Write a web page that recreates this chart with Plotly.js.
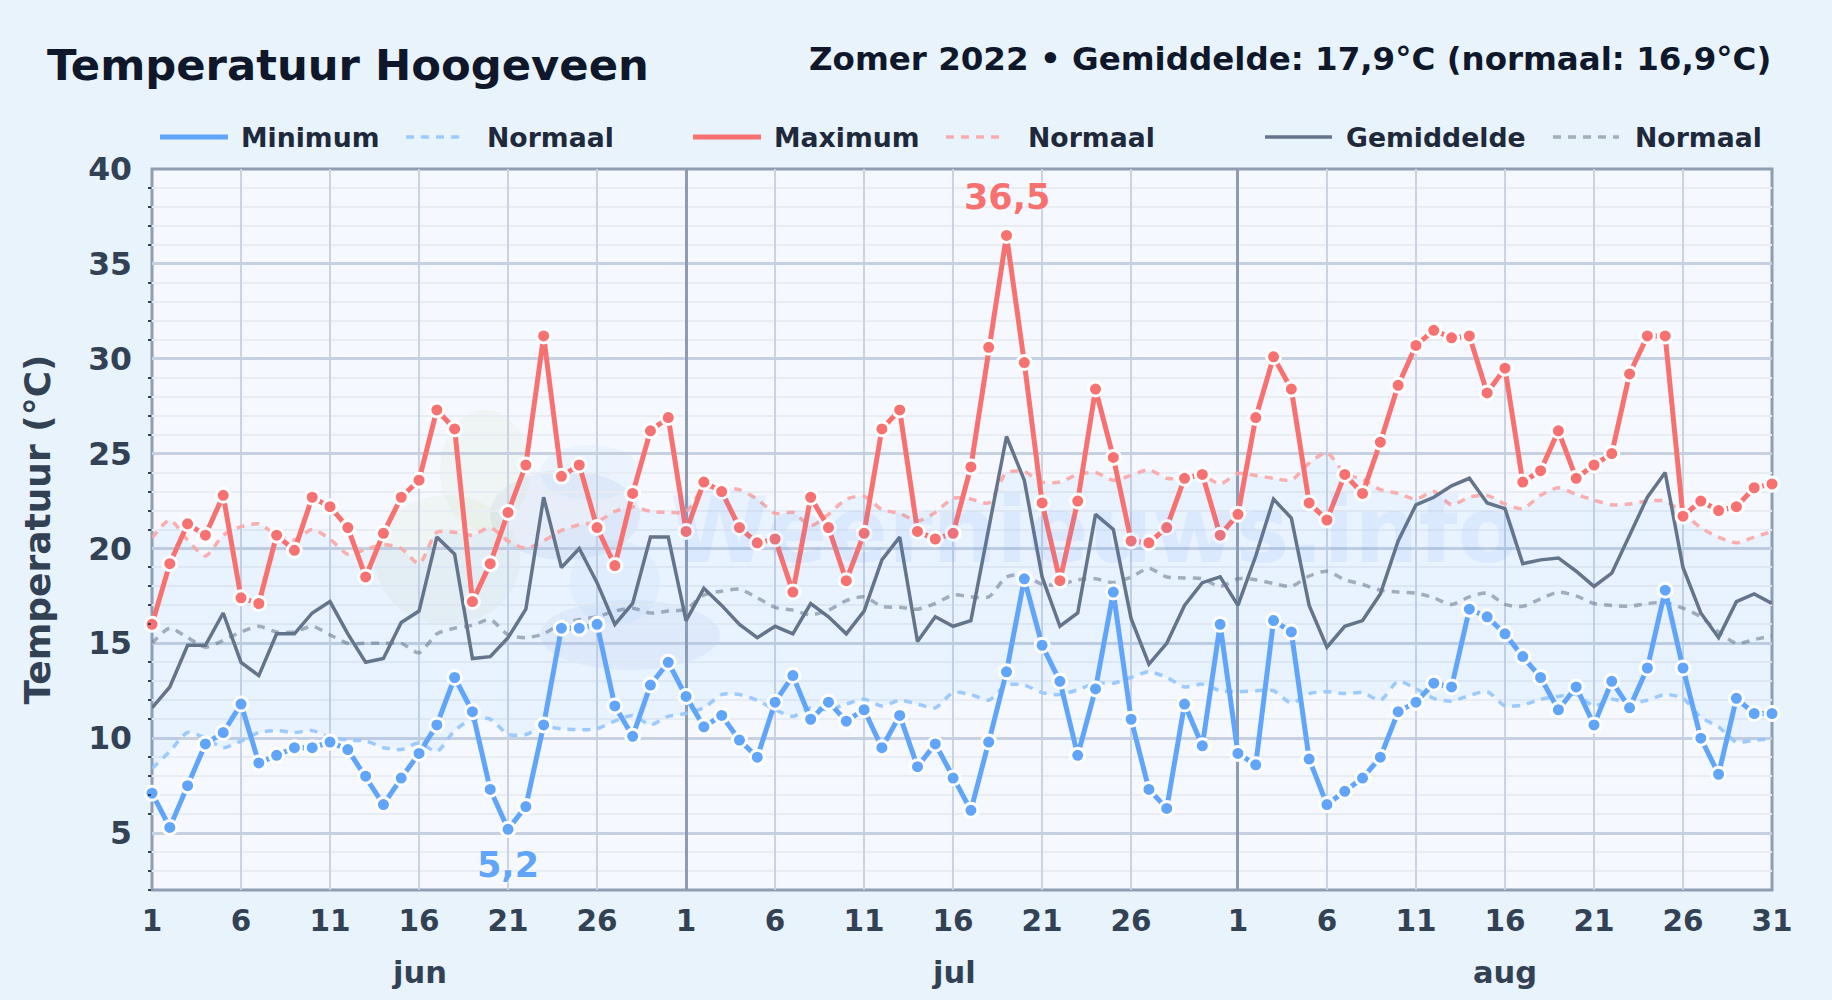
<!DOCTYPE html>
<html><head><meta charset="utf-8">
<script src="https://cdn.plot.ly/plotly-3.0.1.min.js"></script>
<style>html,body{margin:0;padding:0;background:#e8f3fc;overflow:hidden}#c{width:1832px;height:1000px}</style>
</head><body><div id="c"></div>
<script>
const minVals = [7.1,5.3,7.5,9.7,10.3,11.8,8.7,9.1,9.5,9.5,9.8,9.4,8.0,6.5,7.9,9.2,10.7,13.2,11.4,7.3,5.2,6.4,10.7,15.8,15.8,16.0,11.7,10.1,12.8,14.0,
12.2,10.6,11.2,9.9,9.0,11.9,13.3,11.0,11.9,10.9,11.5,9.5,11.2,8.5,9.7,7.9,6.2,9.8,13.5,18.4,14.9,13.0,9.1,12.6,17.7,11.0,7.3,6.3,11.8,9.6,16.0,
9.2,8.6,16.2,15.6,8.9,6.5,7.2,7.9,9.0,11.4,11.9,12.9,12.7,16.8,16.4,15.5,14.3,13.2,11.5,12.7,10.7,13.0,11.6,13.7,17.8,13.7,10.0,8.1,12.1,11.3,11.3];
const maxVals = [16.0,19.2,21.3,20.7,22.8,17.4,17.1,20.7,19.9,22.7,22.2,21.1,18.5,20.8,22.7,23.6,27.3,26.3,17.2,19.2,21.9,24.4,31.2,23.8,24.4,21.1,19.1,22.9,26.2,26.9,
20.9,23.5,23.0,21.1,20.3,20.5,17.7,22.7,21.1,18.3,20.8,26.3,27.3,20.9,20.5,20.8,24.3,30.6,36.5,29.8,22.4,18.3,22.5,28.4,24.8,20.4,20.3,21.1,23.7,23.9,20.7,
21.8,26.9,30.1,28.4,22.4,21.5,23.9,22.9,25.6,28.6,30.7,31.5,31.1,31.2,28.2,29.5,23.5,24.1,26.2,23.7,24.4,25.0,29.2,31.2,31.2,21.7,22.5,22.0,22.2,23.2,23.4];
const meanVals = [11.6,12.7,14.9,14.9,16.6,14.0,13.3,15.5,15.5,16.6,17.2,15.5,14.0,14.2,16.1,16.7,20.6,19.7,14.2,14.3,15.3,16.8,22.7,19.0,20.0,18.2,16.0,17.1,20.6,20.6,
16.2,17.9,17.0,16.0,15.3,15.9,15.5,17.1,16.4,15.5,16.7,19.4,20.6,15.1,16.4,15.9,16.2,21.0,25.9,23.6,18.5,15.9,16.6,21.8,21.0,16.3,13.9,15.0,17.0,18.2,18.5,
17.0,19.6,22.6,21.6,17.0,14.8,15.9,16.2,17.6,20.4,22.3,22.7,23.3,23.7,22.4,22.1,19.2,19.4,19.5,18.8,18.0,18.7,20.7,22.7,24.0,19.0,16.6,15.3,17.2,17.6,17.1];
const normMin = [8.4,9.3,10.3,10.0,9.5,9.85,10.3,10.4,10.3,10.4,10.05,9.9,9.85,9.5,9.4,9.75,9.3,10.4,11.0,11.0,10.2,10.2,10.6,10.5,10.45,10.5,10.9,11.2,10.7,11.15,
11.3,11.6,12.3,12.3,12.0,11.5,11.15,11.6,11.5,11.8,12.05,11.7,12.0,11.8,11.6,12.4,12.3,12.0,12.8,12.8,12.4,12.3,12.55,12.9,12.9,13.2,13.5,13.2,12.7,12.85,12.5,
12.45,12.5,12.5,11.85,12.35,12.45,12.35,12.4,12.0,13.0,12.6,12.1,11.95,12.25,12.45,11.7,11.75,12.05,12.2,12.3,11.7,12.05,11.85,12.0,12.3,12.1,11.1,10.6,9.8,9.9,9.95];
const normMax = [20.55,21.5,20.45,19.6,20.7,21.15,21.3,20.7,20.45,21.0,20.5,19.7,19.95,20.2,20.0,19.2,20.85,20.85,20.7,21.1,20.4,20.0,20.4,20.95,21.25,21.4,21.95,22.2,21.95,21.9,
21.95,23.2,23.2,23.1,22.6,21.85,21.9,21.2,21.8,22.6,22.75,22.05,21.85,21.45,21.9,22.65,22.6,22.4,24.0,24.05,23.5,23.5,23.9,24.0,23.6,23.85,24.15,23.7,23.7,23.85,23.4,
23.95,23.85,23.7,23.6,24.5,25.05,23.95,23.65,23.1,22.9,22.6,23.0,22.3,22.7,22.8,22.35,22.1,22.8,23.2,22.85,22.55,22.3,22.35,22.5,22.5,21.85,21.1,20.6,20.3,20.6,20.9];
const normMean = [15.0,15.8,15.3,14.8,15.15,15.6,15.9,15.6,15.6,15.9,15.45,15.0,15.0,15.0,15.0,14.5,15.5,15.8,15.95,16.25,15.45,15.3,15.5,16.05,16.25,16.4,16.7,16.85,16.6,16.7,
16.8,17.55,17.75,17.85,17.4,16.9,16.75,16.5,16.75,17.25,17.45,16.95,16.9,16.8,17.1,17.55,17.45,17.45,18.5,18.6,18.1,18.1,18.35,18.4,18.2,18.5,18.95,18.5,18.45,18.4,18.0,
18.4,18.35,18.15,18.0,18.55,18.8,18.35,18.1,17.8,17.7,17.65,17.4,17.05,17.45,17.65,17.05,16.95,17.35,17.7,17.5,17.1,17.0,16.95,17.1,17.15,16.85,16.4,15.6,15.0,15.2,15.4];

const dayIndex = minVals.map((_, i) => i);
const tickPositions = [0,5,10,15,20,25,30,35,40,45,50,55,61,66,71,76,81,86,91];
const tickLabels = ['1','6','11','16','21','26','1','6','11','16','21','26','1','6','11','16','21','26','31'];
const monthBoundaries = [30, 61];
const monthNames = ['jun','jul','aug'];
const monthCenters = [15, 45, 76];

const COL = {min:'#60a5fa', max:'#f87171', mean:'#64748b',
  nmin:'rgba(147,197,253,0.9)', nmax:'rgba(252,165,165,0.9)', nmean:'rgba(100,116,139,0.55)',
  ink:'#0f172a', ink2:'#1e293b', axis:'#334155', frame:'#8f9eb3'};
const FONT = 'DejaVu Sans, sans-serif';
const W = 1832, H = 1000, L = 152, T = 169, R = 1772, B = 890;
const px = v => (v - L) / (R - L), py = v => (B - v) / (B - T);

const legendRows = [
  {label:'Minimum', x0:160, x1:228, tx:239, color:COL.min, w:5, dash:'solid'},
  {label:'Normaal', x0:406, x1:465, tx:485, color:COL.nmin, w:3.5, dash:'8px,7px'},
  {label:'Maximum', x0:693, x1:761, tx:772, color:COL.max, w:5, dash:'solid'},
  {label:'Normaal', x0:946, x1:1005, tx:1026, color:COL.nmax, w:3.5, dash:'8px,7px'},
  {label:'Gemiddelde', x0:1265, x1:1332, tx:1344, color:COL.mean, w:3.5, dash:'solid'},
  {label:'Normaal', x0:1553, x1:1619, tx:1633, color:COL.nmean, w:3.5, dash:'8px,7px'}
];

const shapes = [];
shapes.push({type:'rect', layer:'between', xref:'paper', yref:'paper', x0:0, x1:1, y0:0, y1:1, line:{color:COL.frame, width:3}});
legendRows.forEach(r => shapes.push({type:'line', xref:'paper', yref:'paper', x0:px(r.x0), x1:px(r.x1), y0:py(137), y1:py(137), line:{color:r.color, width:r.w, dash:r.dash}}));
// faint logo behind the chart
[[375,495,520,625,'rgba(190,225,170,0.13)'],[440,410,530,530,'rgba(190,225,170,0.13)'],
 [490,470,640,560,'rgba(130,165,215,0.12)'],[540,600,720,670,'rgba(130,165,215,0.10)'],
 [540,445,640,500,'rgba(150,200,245,0.11)'],[570,540,660,625,'rgba(150,200,245,0.11)']].forEach(c =>
  shapes.push({type:'circle', layer:'below', xref:'paper', yref:'paper', x0:px(c[0]), x1:px(c[2]), y0:py(c[3]), y1:py(c[1]), fillcolor:c[4], line:{width:0}}));

const annotations = [
  {text:'Temperatuur Hoogeveen', xref:'paper', yref:'paper', x:px(45), y:py(65), xanchor:'left', yanchor:'middle', showarrow:false, font:{family:FONT, size:43.3, color:COL.ink, weight:700}},
  {text:'Zomer 2022 • Gemiddelde: 17,9°C (normaal: 16,9°C)', xref:'paper', yref:'paper', x:px(1773), y:py(59), xanchor:'right', yanchor:'middle', showarrow:false, font:{family:FONT, size:32.5, color:COL.ink, weight:700}},
  {text:'Weernieuws.info', xref:'paper', yref:'paper', x:px(1094), y:py(530), xanchor:'center', yanchor:'middle', showarrow:false, opacity:0.075, font:{family:FONT, size:90, color:'#3b82f6', weight:700}},
  {text:'36,5', xref:'x', yref:'y', x:maxVals.indexOf(Math.max(...maxVals)), y:Math.max(...maxVals), yshift:38, showarrow:false, font:{family:FONT, size:35, color:COL.max, weight:700, shadow:'0 0 3px #fff'}},
  {text:'5,2', xref:'x', yref:'y', x:minVals.indexOf(Math.min(...minVals)), y:Math.min(...minVals), yshift:-36, showarrow:false, font:{family:FONT, size:35, color:COL.min, weight:700, shadow:'0 0 3px #fff'}}
];
monthNames.forEach((m,i) => annotations.push({text:m, xref:'x', yref:'paper', x:monthCenters[i], y:py(972), yanchor:'middle', showarrow:false, font:{family:FONT, size:30.5, color:COL.axis, weight:700}}));
legendRows.forEach(r => annotations.push({text:r.label, xref:'paper', yref:'paper', x:px(r.tx), y:py(137), xanchor:'left', yanchor:'middle', showarrow:false, font:{family:FONT, size:26.7, color:COL.ink2, weight:700}}));

const line = (name, y, color, width, extra) => Object.assign({type:'scatter', mode:'lines', name, x:dayIndex, y, line:{color, width}, showlegend:false, cliponaxis:false, hoverinfo:'skip'}, extra||{});
const smooth = (name, y, color, extra) => line(name, y, color, 3.5, Object.assign({line:{color, width:3.5, dash:'8px,7px', shape:'spline', smoothing:0.7}}, extra||{}));
const dots = (name, y, color) => line(name, y, color, 5, {mode:'lines+markers', marker:{color, size:14, line:{color:'#ffffff', width:3}}});

const traces = [
  smooth('Normaal minimum', normMin, COL.nmin),
  smooth('Normaal maximum', normMax, COL.nmax, {fill:'tonexty', fillcolor:'rgba(96,165,250,0.08)'}),
  smooth('Normaal gemiddelde', normMean, COL.nmean),
  line('Gemiddelde', meanVals, COL.mean, 3.5),
  dots('Maximum', maxVals, COL.max),
  dots('Minimum', minVals, COL.min),
  {type:'scatter', mode:'lines', x:[null], y:[null], xaxis:'x2', showlegend:false, hoverinfo:'skip'}
];

const layout = {
  width:W, height:H, paper_bgcolor:'#e8f3fc', plot_bgcolor:'#f5f9ff',
  margin:{l:L, r:W-R, t:T, b:H-B, pad:0}, showlegend:false, hovermode:false,
  font:{family:FONT},
  xaxis:{range:[0,91], tickmode:'array', tickvals:tickPositions, ticktext:tickLabels, ticks:'', tickfont:{family:FONT, size:29.5, color:COL.axis, weight:700},
    ticklabelstandoff:10, showgrid:true, gridcolor:'#c9d3e2', gridwidth:2, zeroline:false, showline:false, automargin:false},
  xaxis2:{overlaying:'x', anchor:'y', range:[0,91], tickmode:'array', tickvals:monthBoundaries, showticklabels:false, ticks:'', showgrid:true, gridcolor:'#8f9cb0', gridwidth:3, zeroline:false, showline:false},
  yaxis:{range:[2,40], tick0:0, dtick:5, ticks:'', tickfont:{family:FONT, size:31.5, color:COL.axis, weight:700}, ticklabelstandoff:19,
    showgrid:true, gridcolor:'#c5d0e0', gridwidth:3, zeroline:false, showline:false, automargin:true,
    minor:{dtick:1, tick0:0, showgrid:true, gridcolor:'#e8edf4', gridwidth:2, ticks:'outside', ticklen:3, tickwidth:2, tickcolor:'#334155'},
    title:{text:'Temperatuur (°C)', standoff:26, font:{family:FONT, size:36, color:COL.axis, weight:700}}},
  shapes, annotations
};
Plotly.newPlot('c', traces, layout, {displayModeBar:false, staticPlot:true});
</script></body></html>
